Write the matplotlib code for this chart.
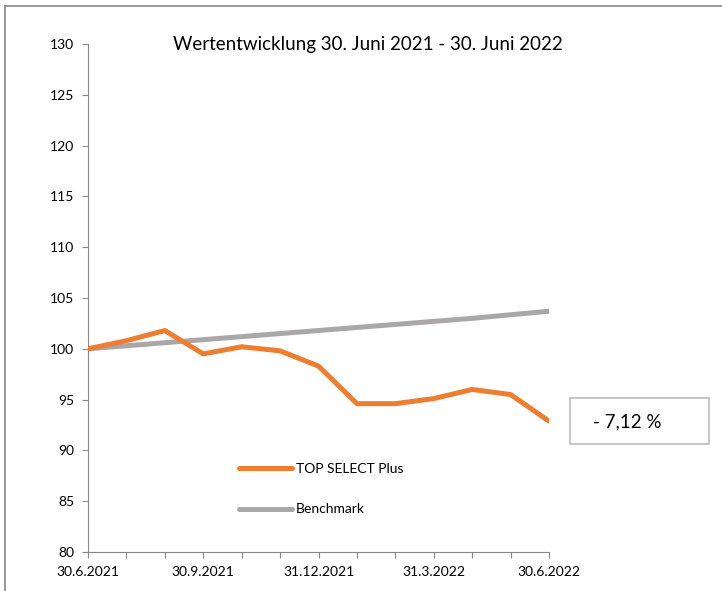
import matplotlib.pyplot as plt
from matplotlib.patches import Rectangle
from matplotlib.lines import Line2D

# monthly values, 30.6.2021 .. 30.6.2022
months = list(range(13))
tick_labels = ["30.6.2021", "", "", "30.9.2021", "", "", "31.12.2021", "", "",
               "31.3.2022", "", "", "30.6.2022"]
top_select = [100.0, 100.8, 101.8, 99.5, 100.2, 99.8, 98.3, 94.6, 94.6, 95.1, 96.0, 95.5, 92.88]
benchmark = [100.0, 100.3, 100.6, 100.9, 101.2, 101.5, 101.8, 102.1, 102.4, 102.7, 103.0, 103.35, 103.7]
perf_label = "- 7,12 %"

plt.rcParams['font.family'] = ['Lato', 'DejaVu Sans']

fig = plt.figure(figsize=(7.22, 5.91), dpi=100)
ax = fig.add_axes([0.1219, 0.066, 0.6385, 0.8595])

ax.plot(months, top_select, color="#ED7D31", lw=3.6, solid_capstyle="round",
        label="TOP SELECT Plus", zorder=3)
ax.plot(months, benchmark, color="#A9A7A7", lw=3.6, solid_capstyle="round",
        label="Benchmark", zorder=2)

ax.set_xlim(0, 12)
ax.set_ylim(80, 130)
ax.set_yticks(range(80, 131, 5))
ax.set_xticks(months)
ax.set_xticklabels(tick_labels)
ax.tick_params(axis="both", direction="out", length=4, width=0.8, color="#888888",
               labelsize=10, pad=6)
for side in ("top", "right"):
    ax.spines[side].set_visible(False)
for side in ("left", "bottom"):
    ax.spines[side].set_color("#888888")
    ax.spines[side].set_linewidth(0.8)

ax.legend(loc="upper left", bbox_to_anchor=(0.3, 0.2), frameon=False,
          fontsize=10, handlelength=3.8, handletextpad=0.3, labelspacing=2.05)

fig.text(0.51, 0.925, "Wertentwicklung 30. Juni 2021 - 30. Juni 2022",
         ha="center", va="center", fontsize=13.5)

# performance box
fig.patches.append(Rectangle((570 / 722, 1 - 444 / 591), 139 / 722, 46 / 591,
                             transform=fig.transFigure, fill=False,
                             edgecolor="#BBBBBB", lw=1.2))
fig.text(593 / 722, 1 - 422 / 591, perf_label, ha="left", va="center", fontsize=13.5)

# outer frame
fig.add_artist(Line2D([5 / 722, 5 / 722], [0, 1 - 6 / 591], color="#888888", lw=1.2,
                      transform=fig.transFigure))
fig.add_artist(Line2D([5 / 722, 1], [1 - 6 / 591, 1 - 6 / 591], color="#888888", lw=1.2,
                      transform=fig.transFigure))

fig.savefig("out.png", dpi=100)
